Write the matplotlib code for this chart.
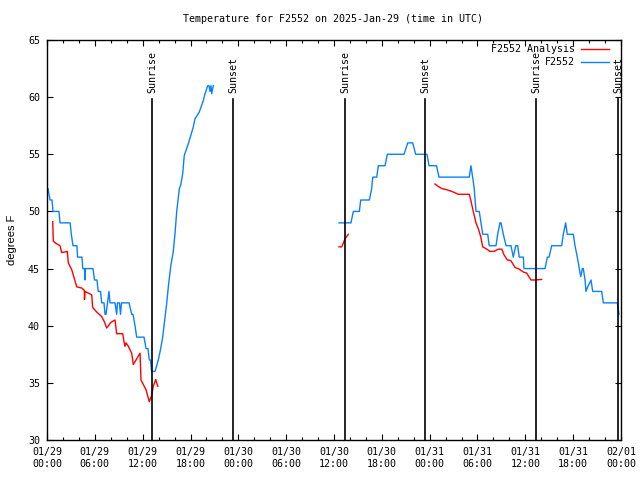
import matplotlib
matplotlib.use("Agg")
import matplotlib.pyplot as plt

# hours since 2025-01-29 00:00 UTC
obs_hours_1 = [0.13, 0.38, 0.63, 0.75, 1.5, 1.63, 2.9, 3.05, 3.26, 3.76, 3.83, 4.39, 4.48, 4.7, 4.77,
               4.83, 5.77, 5.96, 6.27, 6.43, 6.71, 6.86, 7.15, 7.28, 7.4, 7.59, 7.78, 7.9, 8.53, 8.74,
               8.84, 9.09, 9.22, 9.35, 10.29, 10.62, 10.79, 11.04, 11.25, 12.17, 12.42, 12.67, 12.83,
               12.98, 13.13, 13.55, 13.96, 14.26, 14.51, 14.68, 15.02, 15.22, 15.52, 15.84, 16.06,
               16.27, 16.6, 16.77, 17.02, 17.22, 17.52, 17.85, 18.35, 18.56, 19.1, 19.61, 19.82,
               20.16, 20.32, 20.45, 20.57, 20.66, 20.86]
obs_temps_1 = [52, 51, 51, 50, 50, 49, 49, 48, 47, 47, 46, 46, 45, 45, 44,
               45, 45, 44, 44, 43, 43, 42, 42, 41, 41, 42, 43, 42, 42, 41,
               42, 42, 41, 42, 42, 41, 41, 40, 39, 39, 38, 38, 37,
               37, 36, 36, 37, 38, 39, 40, 42, 43.4, 45.2, 46.5, 48.1,
               50, 52, 52.3, 53.3, 54.9, 55.5, 56.2, 57.4, 58.1, 58.7, 59.7, 60.3,
               61, 61, 60.5, 61, 60.3, 61]

obs_hours_2 = [36.63, 38.13, 38.42, 39.18, 39.35, 40.43, 40.73, 40.86, 41.36, 41.56, 42.4, 42.69,
               44.78, 45.25, 45.87, 46.25, 47.67, 47.92, 48.86, 49.17, 52.97, 53.18, 53.39, 53.59,
               53.81, 54.22, 54.44, 54.65, 55.28, 55.47, 56.32, 56.53, 56.82, 56.95, 57.24, 57.58,
               58.2, 58.49, 58.79, 59.04, 59.24, 59.75, 59.83, 62.47, 62.76, 62.97, 63.31, 64.56,
               64.76, 65.06, 65.26, 66.02, 66.23, 66.52, 66.77, 66.95, 67.15, 67.27, 67.49, 67.61,
               67.82, 68.24, 68.45, 69.58, 69.78, 71.54, 71.75]
obs_temps_2 = [49, 49, 50, 50, 51, 51, 52, 53, 53, 54, 54, 55,
               55, 56, 56, 55, 55, 54, 54, 53, 53, 54, 53, 52,
               50, 50, 49, 48, 48, 47, 47, 48, 49, 49, 48, 47,
               47, 46, 47, 47, 46, 46, 45, 45, 46, 46, 47, 47,
               48, 49, 48, 48, 47, 46, 45, 44.3, 45, 45, 44, 43,
               43.4, 44, 43, 43, 42, 42, 41]

ana_hours_1 = [0.72, 0.79, 1.13, 1.63, 1.84, 2.55, 2.67, 3.1, 3.73, 4.35, 4.68, 4.7, 4.77, 5.61,
               5.73, 6.23, 6.86, 7.19, 7.49, 8.03, 8.53, 8.74, 9.5, 9.66, 9.78, 9.91, 10.2, 10.62,
               10.83, 11.67, 11.79, 12.42, 12.83, 13.13, 13.33, 13.64, 13.89]
ana_temps_1 = [49.1, 47.4, 47.2, 47.0, 46.4, 46.5, 45.5, 44.9, 43.4, 43.3, 43.1, 42.3, 43.0, 42.7,
               41.6, 41.2, 40.8, 40.35, 39.8, 40.3, 40.5, 39.3, 39.3, 38.6, 38.2, 38.5, 38.2, 37.6,
               36.6, 37.6, 35.25, 34.4, 33.35, 33.9, 34.7, 35.3, 34.7]

ana_hours_2 = [36.63, 36.97, 37.38, 37.79]
ana_temps_2 = [46.9, 46.9, 47.6, 48.0]

ana_hours_3 = [48.67, 49.05, 49.51, 50.14, 50.97, 51.59, 52.97, 53.15, 53.47, 53.81, 54.1, 54.4,
               54.65, 55.16, 55.57, 56.07, 56.61, 57.04, 57.33, 57.74, 58.17, 58.71, 59.21, 59.75,
               60.17, 60.71, 61.21, 62.05]
ana_temps_3 = [52.4, 52.2, 52.0, 51.9, 51.7, 51.5, 51.5, 51.0, 50.0, 49.0, 48.5, 47.8,
               46.9, 46.7, 46.5, 46.5, 46.7, 46.7, 46.2, 45.75, 45.7, 45.1, 44.96, 44.7,
               44.6, 44.0, 44.0, 44.05]

sunrise_hours = [13.17, 37.38, 61.34]
sunset_hours = [23.33, 47.42, 71.63]

tick_hours = [0, 6, 12, 18, 24, 30, 36, 42, 48, 54, 60, 66, 72]
tick_labels = ["01/29\n00:00", "01/29\n06:00", "01/29\n12:00", "01/29\n18:00",
               "01/30\n00:00", "01/30\n06:00", "01/30\n12:00", "01/30\n18:00",
               "01/31\n00:00", "01/31\n06:00", "01/31\n12:00", "01/31\n18:00",
               "02/01\n00:00"]

RED = "#ff0000"
BLUE = "#0a80ff"
mono = "DejaVu Sans Mono"

fig = plt.figure(figsize=(6.4, 4.8), dpi=100)
ax = fig.add_axes([47 / 640, 40 / 480, 574 / 640, 400 / 480])

for h, t in [(ana_hours_1, ana_temps_1), (ana_hours_2, ana_temps_2), (ana_hours_3, ana_temps_3)]:
    ax.plot(h, t, color=RED, lw=1.0)
for h, t in [(obs_hours_1, obs_temps_1), (obs_hours_2, obs_temps_2)]:
    ax.plot(h, t, color=BLUE, lw=1.0)

ax.set_xlim(0, 72)
ax.set_ylim(30, 65)

line_top = 59.8
for hrs, name in [(sunrise_hours, "Sunrise"), (sunset_hours, "Sunset")]:
    for h in hrs:
        ax.plot([h, h], [30, line_top], color="black", lw=1.2)
        ax.text(h, 60.4, name, rotation=90, ha="center", va="bottom",
                family=mono, fontsize=7.2)

ax.set_xticks(tick_hours)
ax.set_xticklabels(tick_labels, family=mono, fontsize=7.2)
ax.set_xticks(range(0, 73, 2), minor=True)
ax.set_yticks(range(30, 66, 5))
ax.set_yticklabels([str(v) for v in range(30, 66, 5)], family=mono, fontsize=7.2)
ax.tick_params(axis="both", which="major", direction="in", length=4, width=0.8,
               top=True, right=True, pad=5)
ax.tick_params(axis="x", which="minor", direction="in", length=2.5, width=0.8, top=True)
ax.tick_params(axis="y", which="minor", left=False, right=False)
for s in ax.spines.values():
    s.set_linewidth(1.0)

ax.set_ylabel("degrees F", family="Liberation Sans", fontsize=8, labelpad=8)
fig.text(333 / 640, 1 - 19 / 480, "Temperature for F2552 on 2025-Jan-29 (time in UTC)",
         ha="center", va="center", family=mono, fontsize=7.2)

# legend, gnuplot style (text right aligned, sample to the right)
for i, (label, color) in enumerate([("F2552 Analysis", RED), ("F2552", BLUE)]):
    y = 1 - (9 + 13.5 * i) / 400
    ax.text(528 / 574, y, label, transform=ax.transAxes, ha="right", va="center",
            family=mono, fontsize=7.2)
    ax.plot([534 / 574, 562 / 574], [y, y], transform=ax.transAxes, color=color, lw=1.0)

fig.savefig("out.png", dpi=100)
